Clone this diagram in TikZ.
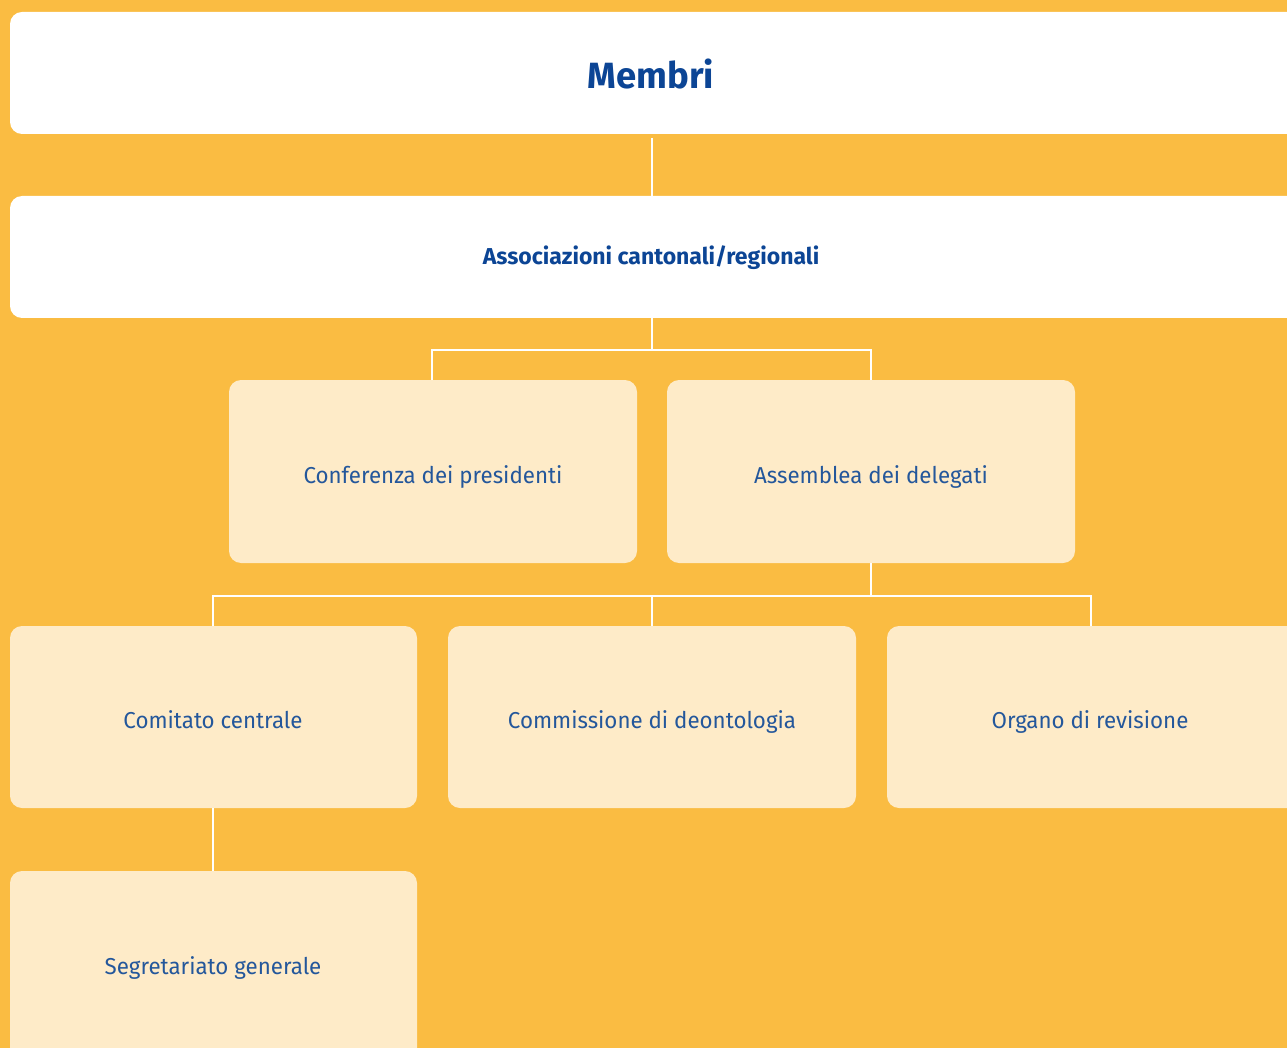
\documentclass[tikz,border=0pt]{standalone}
\usepackage{fontspec}
\setmainfont{Fira Sans}
\newfontfamily\lightfont{Fira Sans}[FakeStretch=0.97]
\newfontfamily\boldfont{Fira Sans}
\definecolor{bgyellow}{HTML}{FABC42}
\definecolor{boxlight}{HTML}{FEEBC8}
\definecolor{textblue}{HTML}{24579B}
\definecolor{titleblue}{HTML}{0C4595}
\tikzset{
  topbox/.style={fill=white, rounded corners=12pt, draw=none},
  orgbox/.style={fill=boxlight, rounded corners=12pt, draw=none},
  lbl/.style={text=textblue, font=\lightfont\fontsize{23}{26}\selectfont, anchor=base},
  ttl/.style={text=titleblue, anchor=base},
  conn/.style={draw=white, line width=2.8pt},
}
\begin{document}
\begin{tikzpicture}[x=1pt,y=-1pt]
\useasboundingbox (0,0) rectangle (1287,1048);
\fill[bgyellow] (0,0) rectangle (1287,1048);
\begin{scope}
\clip (0,0) rectangle (1287,1048);
% boxes
\path[topbox] (10,12) rectangle (1300,134);
\path[topbox] (10,196) rectangle (1300,318);
\path[orgbox] (229,380) rectangle (637,563);
\path[orgbox] (667,380) rectangle (1075,563);
\path[orgbox] (10,626) rectangle (417,808);
\path[orgbox] (448,626) rectangle (856,808);
\path[orgbox] (887,626) rectangle (1300,808);
\path[orgbox] (10,871) rectangle (417,1070);
\end{scope}
% labels
\node[ttl, font=\boldfont\bfseries\fontsize{36.5}{40}\selectfont] (membri) at (651,89) {Membri};
\node[ttl, font=\boldfont\bfseries\fontsize{23}{26}\selectfont] (assoc) at (651,265) {Associazioni cantonali/regionali};
\node[lbl] (conf) at (433,483) {Conferenza dei presidenti};
\node[lbl] (assem) at (871,483) {Assemblea dei delegati};
\node[lbl] (comit) at (213,728) {Comitato centrale};
\node[lbl] (comm) at (652,728) {Commissione di deontologia};
\node[lbl] (organo) at (1090,728) {Organo di revisione};
\node[lbl] (segr) at (213,974) {Segretariato generale};
% anchor coordinates for connectors
\coordinate (membriB) at (652,138);
\coordinate (assocT) at (652,196);
\coordinate (assocB) at (652,318);
\coordinate (confT) at (432,380);
\coordinate (assemT) at (871,380);
\coordinate (assemB) at (871,563);
\coordinate (comitT) at (213,626);
\coordinate (commT) at (652,626);
\coordinate (organoT) at (1091,626);
\coordinate (comitB) at (213,808);
\coordinate (segrT) at (213,871);
% connectors
\draw[conn] (membriB) -- (assocT);
\draw[conn] (assocB) -- (652,350);
\draw[conn] (confT) |- (assemT |- 0,350) -- (assemT);
\draw[conn] (assemB) -- (871,596);
\draw[conn] (comitT) |- (organoT |- 0,596) -- (organoT);
\draw[conn] (commT) -- (652,596);
\draw[conn] (comitB) -- (segrT);
\end{tikzpicture}
\end{document}
